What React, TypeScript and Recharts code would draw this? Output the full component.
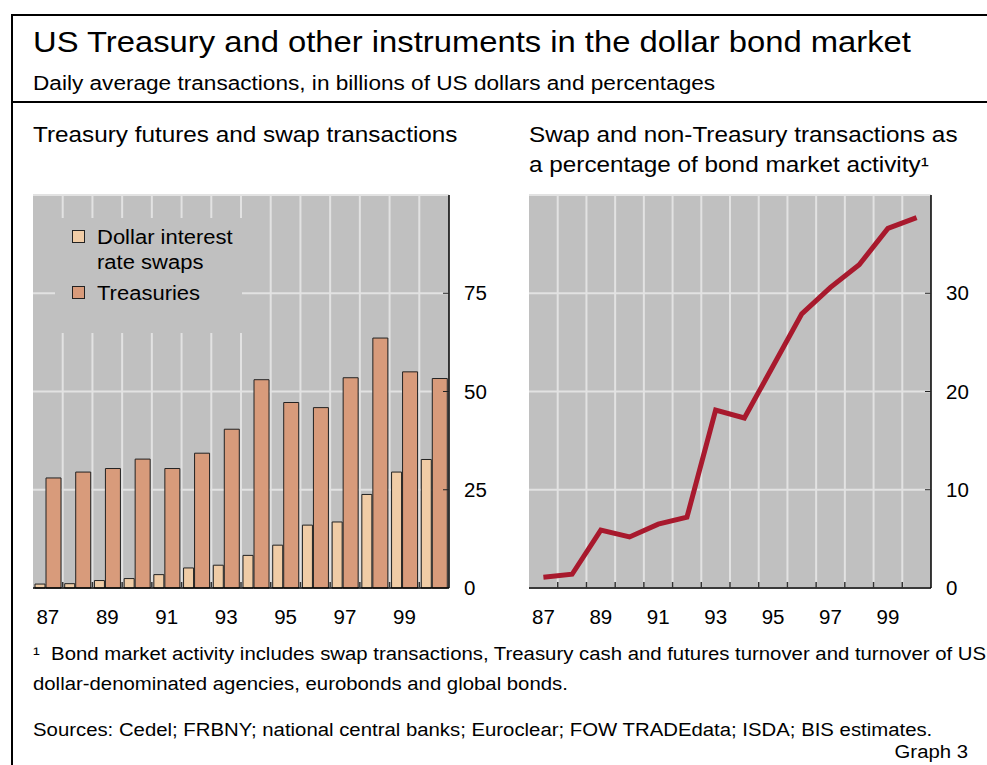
import React from "react";
import { BarChart, Bar, LineChart, Line, XAxis, YAxis, CartesianGrid, Legend } from "recharts";

const years = ["87", "88", "89", "90", "91", "92", "93", "94", "95", "96", "97", "98", "99", "00"];
const swaps = [1.0, 1.1, 1.9, 2.4, 3.4, 5.1, 5.8, 8.3, 10.9, 16.0, 16.8, 23.8, 29.5, 32.7];
const treasuries = [28.0, 29.5, 30.4, 32.8, 30.4, 34.3, 40.4, 53.0, 47.2, 45.9, 53.5, 63.6, 55.0, 53.3];
const swapShare = [1.1, 1.4, 5.9, 5.2, 6.5, 7.2, 18.1, 17.3, 22.6, 27.9, 30.6, 32.9, 36.6, 37.7];
const leftTicks = [0, 25, 50, 75];
const rightTicks = [0, 10, 20, 30];

const barData = years.map((year, i) => ({ year, swaps: swaps[i], treasuries: treasuries[i] }));
const lineData = years.map((year, i) => ({ year, share: swapShare[i] }));

const FONT = "'Liberation Sans', Arial, Helvetica, sans-serif";
const STRETCH = "scaleX(1.13)";
const GRID = "#E2E2E2";
const PLOT_BG = "#C0C0C0";

// vertical gridlines sit on the boundaries between years
const boundaries = ({ offset }: any) =>
  Array.from({ length: years.length - 1 }, (_, i) => offset.left + ((i + 1) * offset.width) / years.length);

const makeXTick = (half: number) => (props: any) => {
  const { x, y, payload, index } = props;
  return (
    <g>
      {index < years.length - 1 && (
        <line x1={x + half} x2={x + half} y1={y} y2={y - 6} stroke="#333" strokeWidth={1.5} />
      )}
      {index % 2 === 0 && (
        <text x={x} y={y + 36} textAnchor="middle" fontSize={20.5} fontFamily={FONT} fill="#000">
          {payload.value}
        </text>
      )}
    </g>
  );
};

const YTick = (props: any) => {
  const { x, y, payload } = props;
  return (
    <g>
      {payload.value !== 0 && <line x1={x - 6} x2={x} y1={y} y2={y} stroke="#222" strokeWidth={1} />}
      <text x={x + 15} y={y + 7} fontSize={20.5} fontFamily={FONT} fill="#000">
        {payload.value}
      </text>
    </g>
  );
};

const LegendBox = (props: any) => {
  const items = props.payload || [];
  const rows = [12, 68];
  return (
    <div style={{ position: "relative", width: 187, height: 115, background: PLOT_BG, fontFamily: FONT }}>
      {items.map((item: any, i: number) => (
        <div key={item.value} style={{ position: "absolute", left: 17, top: rows[i] }}>
          <div
            style={{
              position: "absolute",
              left: 0,
              top: 0,
              width: 11,
              height: 11,
              background: item.color,
              border: "1px solid #222",
            }}
          />
          <div
            style={{
              position: "absolute",
              left: 25,
              top: -5,
              width: 130,
              fontSize: 20,
              lineHeight: "25px",
              color: "#000",
              transform: "scaleX(1.1)",
              transformOrigin: "left top",
            }}
          >
            {item.value}
          </div>
        </div>
      ))}
    </div>
  );
};

const Text = ({ left, right, top, size, children }: any) => (
  <div
    style={{
      position: "absolute",
      left,
      right,
      top,
      fontSize: size,
      lineHeight: 1,
      whiteSpace: "nowrap",
      fontFamily: FONT,
      color: "#000",
      transform: STRETCH,
      transformOrigin: right !== undefined ? "right top" : "left top",
    }}
  >
    {children}
  </div>
);

const TreasuryChart = () => (
  <BarChart
    width={520}
    height={460}
    data={barData}
    margin={{ top: 15, left: 33, right: 11, bottom: 12 }}
    barGap={1}
  >
    <CartesianGrid
      fill={PLOT_BG}
      fillOpacity={1}
      stroke={GRID}
      strokeWidth={2}
      verticalCoordinatesGenerator={boundaries}
    />
    <XAxis
      dataKey="year"
      interval={0}
      height={40}
      tickSize={0}
      tickMargin={0}
      tickLine={false}
      axisLine={{ stroke: "#000", strokeWidth: 1.5 }}
      tick={makeXTick(416 / years.length / 2)}
    />
    <XAxis xAxisId="top" dataKey="year" orientation="top" height={0} tick={false} tickLine={false} axisLine={{ stroke: "#666" }} />
    <YAxis
      orientation="right"
      domain={[0, 100]}
      ticks={leftTicks}
      width={60}
      tickSize={0}
      tickMargin={0}
      tickLine={false}
      axisLine={{ stroke: "#000", strokeWidth: 1.5 }}
      tick={YTick}
    />
    <YAxis yAxisId="frame" orientation="left" width={0} domain={[0, 100]} tick={false} tickLine={false} axisLine={{ stroke: "#666" }} />
    <Legend
      layout="horizontal"
      verticalAlign="middle"
      align="center"
      content={LegendBox}
      wrapperStyle={{ left: 55, top: 38, width: 187, height: 115 }}
    />
    <Bar
      dataKey="swaps"
      name="Dollar interest rate swaps"
      fill="#F0CCA6"
      stroke="#222"
      strokeWidth={1}
      barSize={10}
      isAnimationActive={false}
    />
    <Bar
      dataKey="treasuries"
      name="Treasuries"
      fill="#D89B7B"
      stroke="#222"
      strokeWidth={1}
      barSize={15}
      isAnimationActive={false}
    />
  </BarChart>
);

const ShareChart = () => (
  <LineChart width={487} height={460} data={lineData} margin={{ top: 15, left: 29, right: 6, bottom: 12 }}>
    <CartesianGrid
      fill={PLOT_BG}
      fillOpacity={1}
      stroke={GRID}
      strokeWidth={2}
      verticalCoordinatesGenerator={boundaries}
    />
    <XAxis
      dataKey="year"
      scale="point"
      padding={{ left: 14.4, right: 14.4 }}
      interval={0}
      height={40}
      tickSize={0}
      tickMargin={0}
      tickLine={false}
      axisLine={{ stroke: "#000", strokeWidth: 1.5 }}
      tick={makeXTick(402 / years.length / 2)}
    />
    <XAxis xAxisId="top" dataKey="year" orientation="top" height={0} tick={false} tickLine={false} axisLine={{ stroke: "#666" }} />
    <YAxis
      orientation="right"
      domain={[0, 40]}
      ticks={rightTicks}
      width={50}
      tickSize={0}
      tickMargin={0}
      tickLine={false}
      axisLine={{ stroke: "#000", strokeWidth: 1.5 }}
      tick={YTick}
    />
    <YAxis yAxisId="frame" orientation="left" width={0} domain={[0, 40]} tick={false} tickLine={false} axisLine={{ stroke: "#666" }} />
    <Line
      type="linear"
      dataKey="share"
      stroke="#A8192D"
      strokeWidth={5}
      strokeLinejoin="miter"
      dot={false}
      isAnimationActive={false}
    />
  </LineChart>
);

export default function App() {
  return (
    <div style={{ position: "absolute", left: 0, top: 0, width: 987, height: 765, overflow: "hidden", background: "#fff" }}>
      {/* frame */}
      <div style={{ position: "absolute", left: 11, top: 14, width: 990, height: 760, border: "2px solid #000", boxSizing: "border-box" }} />
      <div style={{ position: "absolute", left: 11, top: 101, width: 990, height: 2, background: "#000" }} />

      <Text left={33} top={28} size={29}>US Treasury and other instruments in the dollar bond market</Text>
      <Text left={33} top={73} size={20}>Daily average transactions, in billions of US dollars and percentages</Text>

      <Text left={33} top={125} size={21.5}>Treasury futures and swap transactions</Text>
      <Text left={529} top={125} size={21.5}>Swap and non-Treasury transactions as</Text>
      <Text left={529} top={155} size={21.5}>a percentage of bond market activity¹</Text>

      <div style={{ position: "absolute", left: 0, top: 180 }}>
        <TreasuryChart />
      </div>
      <div style={{ position: "absolute", left: 500, top: 180 }}>
        <ShareChart />
      </div>

      <Text left={33} top={645} size={18}>¹&nbsp;&nbsp;Bond market activity includes swap transactions, Treasury cash and futures turnover and turnover of US</Text>
      <Text left={33} top={675} size={18}>dollar-denominated agencies, eurobonds and global bonds.</Text>
      <Text left={33} top={721} size={18}>Sources: Cedel; FRBNY; national central banks; Euroclear; FOW TRADEdata; ISDA; BIS estimates.</Text>
      <Text right={19} top={743} size={18}>Graph 3</Text>
    </div>
  );
}
